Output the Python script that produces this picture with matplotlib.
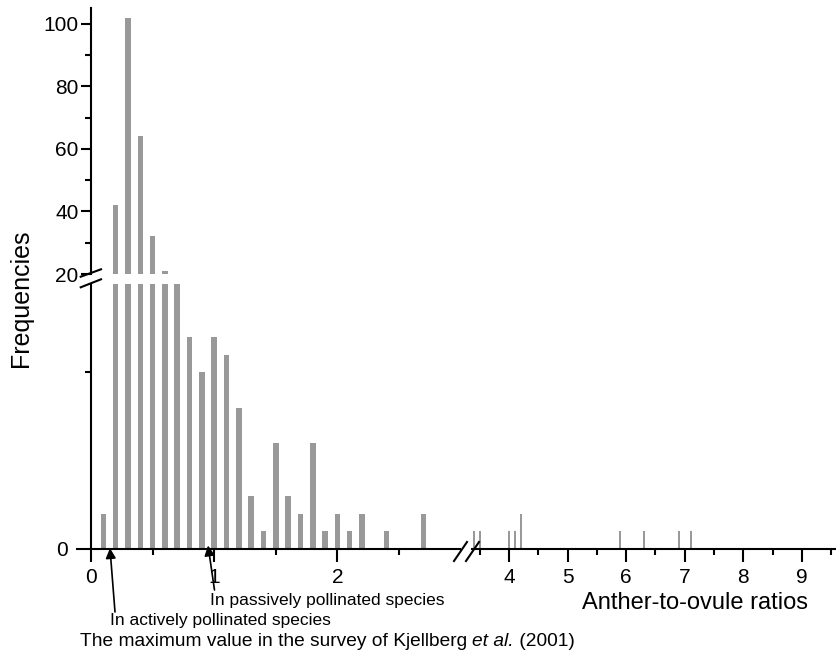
import matplotlib
matplotlib.use("Agg")
import matplotlib.pyplot as plt
from matplotlib.lines import Line2D

plt.rcParams['font.family'] = ['Liberation Sans', 'DejaVu Sans']

# ratio classes (left part of the broken x axis) and their frequencies
left_ratios = [0.1, 0.2, 0.3, 0.4, 0.5, 0.6, 0.7, 0.8, 0.9, 1.0, 1.1, 1.2,
               1.3, 1.4, 1.5, 1.6, 1.7, 1.8, 1.9, 2.0, 2.1, 2.2, 2.4, 2.7]
left_freqs = [2, 42, 102, 64, 32, 21, 16, 12, 10, 12, 11, 8,
              3, 1, 6, 3, 2, 6, 1, 2, 1, 2, 1, 2]

# right part of the broken x axis
right_ratios = [3.4, 3.5, 4.0, 4.1, 4.2, 5.9, 6.3, 6.9, 7.1, 9.6]
right_freqs = [1, 1, 1, 1, 2, 1, 1, 1, 1, 1]

# the maximum values in the survey of Kjellberg et al. (2001)
max_active = 0.154
max_passive = 0.95

W, H = 837, 655
bar_color = '#999999'


def px(x, y):
    # pixel position (from top-left) -> figure fraction
    return x / W, 1 - y / H


fig = plt.figure(figsize=(W / 100, H / 100), dpi=100)

ax_lo = fig.add_axes([91 / W, 106 / H, 369 / W, 265 / H])
ax_up = fig.add_axes([91 / W, 381 / H, 369 / W, 266 / H])
ax_r = fig.add_axes([472 / W, 106 / H, 366 / W, 265 / H])

ax_lo.bar(left_ratios, left_freqs, width=0.045, color=bar_color)
ax_up.bar(left_ratios, left_freqs, width=0.045, color=bar_color)
ax_r.bar(right_ratios, right_freqs, width=0.035, color=bar_color)

ax_lo.set_xlim(0, 369 / 123.2)
ax_up.set_xlim(0, 369 / 123.2)
ax_r.set_xlim(3.37, 3.37 + 366 / 58.6)
ax_lo.set_ylim(0, 15)
ax_r.set_ylim(0, 15)
ax_up.set_ylim(20, 105.1)

for ax in (ax_lo, ax_up, ax_r):
    for s in ('top', 'right'):
        ax.spines[s].set_visible(False)
    for s in ('left', 'bottom'):
        ax.spines[s].set_linewidth(1.5)
    ax.patch.set_alpha(0)
    ax.tick_params(which='major', length=7, width=1.5, labelsize=15, pad=2)
    ax.tick_params(which='minor', length=4, width=1.5)

# upper panel: only the y axis
ax_up.spines['bottom'].set_visible(False)
ax_up.set_xticks([])
ax_up.set_yticks([20, 40, 60, 80, 100])
ax_up.set_yticks([30, 50, 70, 90], minor=True)

# lower left panel
ax_lo.set_yticks([0])
ax_lo.set_yticks([10], minor=True)
ax_lo.tick_params(axis='y', which='major', length=11, pad=6)
ax_lo.set_xticks([0, 1, 2])
ax_lo.set_xticks([0.5, 1.5, 2.5], minor=True)
ax_lo.tick_params(axis='x', which='major', length=9, pad=5)

# lower right panel: no y axis
ax_r.spines['left'].set_visible(False)
ax_r.set_yticks([])
ax_r.set_xticks([4, 5, 6, 7, 8, 9])
ax_r.set_xticks([3.5, 4.5, 5.5, 6.5, 7.5, 8.5, 9.5], minor=True)
ax_r.tick_params(axis='x', which='major', length=9, pad=5)

# break marks
for (x0, y0, x1, y1) in [(80.7, 276.7, 101, 269.3), (80.7, 287.3, 101, 279.3),
                         (454, 561, 467, 542), (466, 561, 479, 542)]:
    fig.add_artist(Line2D([x0 / W, x1 / W], [1 - y0 / H, 1 - y1 / H],
                          transform=fig.transFigure, color='black', lw=1.5))

# arrows marking the maximum values
arrow = dict(arrowstyle='-|>', color='black', lw=1.2, mutation_scale=15,
             shrinkA=0, shrinkB=0)
ax_lo.annotate('', xy=(max_active, 0.05), xytext=px(115, 612),
               textcoords='figure fraction', arrowprops=arrow, annotation_clip=False)
ax_lo.annotate('', xy=(max_passive, 0.2), xytext=px(214.5, 590),
               textcoords='figure fraction', arrowprops=arrow, annotation_clip=False)

fig.text(*px(210, 600), 'In passively pollinated species', size=12.5,
         ha='left', va='center')
fig.text(*px(110, 620), 'In actively pollinated species', size=12.5,
         ha='left', va='center')

# caption with italic "et al." built from pieces
renderer = fig.canvas.get_renderer()
x_pos = 80
for piece, style in [('The maximum value in the survey of Kjellberg ', 'normal'),
                     ('et al.', 'italic'), (' (2001)', 'normal')]:
    t = fig.text(*px(x_pos, 641), piece, size=13.8, style=style,
                 ha='left', va='center')
    x_pos += t.get_window_extent(renderer).width

fig.text(*px(695, 603), 'Anther-to-ovule ratios', size=17, ha='center', va='center')
fig.text(*px(21, 298), 'Frequencies', size=18, rotation=90, ha='center', va='center')

fig.savefig('out.png', dpi=100)
